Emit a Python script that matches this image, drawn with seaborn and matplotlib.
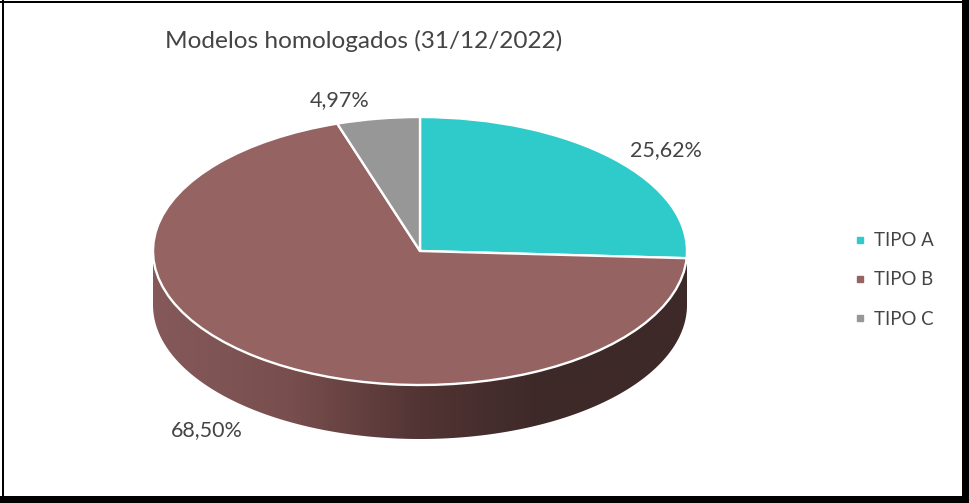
import matplotlib
matplotlib.use("Agg")
import matplotlib.pyplot as plt
import numpy as np
import seaborn as sns
from matplotlib.colors import LinearSegmentedColormap
from matplotlib.lines import Line2D
from matplotlib.patches import Polygon, Rectangle

categories = ["TIPO A", "TIPO B", "TIPO C"]
shares = [25.62, 68.50, 4.97]
title = "Modelos homologados (31/12/2022)"

colors = sns.color_palette(["#2FCBCB", "#956462", "#979797"])
label_px = [(666, 150), (207, 430), (340, 100)]
W, H = 969, 503
TEXT = "#444444"

sns.set_theme(style="white")
plt.rcParams["font.family"] = ["Lato", "DejaVu Sans"]

fig = plt.figure(figsize=(W / 100, H / 100), dpi=100, facecolor="white")

# pie axes: top ellipse 153..687 x 117..385 px, wall 54 px deep
depth = 54 / 134
ax = fig.add_axes([153 / W, 1 - 439 / H, 534 / W, 322 / H])
wedges, _ = ax.pie(shares, colors=colors, startangle=90, counterclock=False,
                   normalize=True, radius=1,
                   wedgeprops=dict(edgecolor="white", linewidth=1.7, zorder=3))
ax.set_aspect("auto")
ax.set_xlim(-1, 1)
ax.set_ylim(-1 - depth, 1)
ax.axis("off")

# extruded wall with horizontal shading
shade = LinearSegmentedColormap.from_list(
    "wall", [(0.0, "#85595A"), (0.25, "#794F4E"), (0.5, "#523434"),
             (0.72, "#3E2929"), (1.0, "#3E2929")])
t = np.linspace(np.pi, 2 * np.pi, 300)
outline = np.r_[np.c_[np.cos(t), np.sin(t)],
                np.c_[np.cos(t[::-1]), np.sin(t[::-1]) - depth]]
wall = Polygon(outline, closed=True, transform=ax.transData, facecolor="none",
               edgecolor="none")
ax.add_patch(wall)
img = ax.imshow(np.linspace(0, 1, 512)[None, :], cmap=shade, aspect="auto",
                extent=(-1, 1, -1 - depth, 0), zorder=1)
img.set_clip_path(wall)
ax.set_xlim(-1, 1)
ax.set_ylim(-1 - depth, 1)

# data labels
for v, (px, py) in zip(shares, label_px):
    fig.text(px / W, 1 - py / H, f"{v:.2f}".replace(".", ",") + "%", ha="center",
             va="center", fontsize=15.5, color=TEXT)

fig.text(364 / W, 1 - 41 / H, title, ha="center", va="center",
         fontsize=17.6, color=TEXT)

handles = [Line2D([], [], linestyle="none", marker="s", markersize=4.8,
                  markerfacecolor=c, markeredgecolor=c) for c in colors]
fig.legend(handles, categories, loc="center left",
           bbox_to_anchor=(851 / W, 1 - 280 / H), frameon=False, fontsize=13.4,
           labelcolor=TEXT, handlelength=1.0, handletextpad=0.25,
           labelspacing=1.2, borderpad=0, borderaxespad=0)

# outer frame with heavy right and bottom edges
for x0, y0, w, h in [(0, 1, W, 2), (2, 0, 2, H), (962, 0, W - 962, H), (0, 496, W, H - 496)]:
    fig.add_artist(Rectangle((x0 / W, 1 - (y0 + h) / H), w / W, h / H,
                             transform=fig.transFigure, facecolor="black",
                             edgecolor="none"))

fig.savefig("out.png", dpi=100)
